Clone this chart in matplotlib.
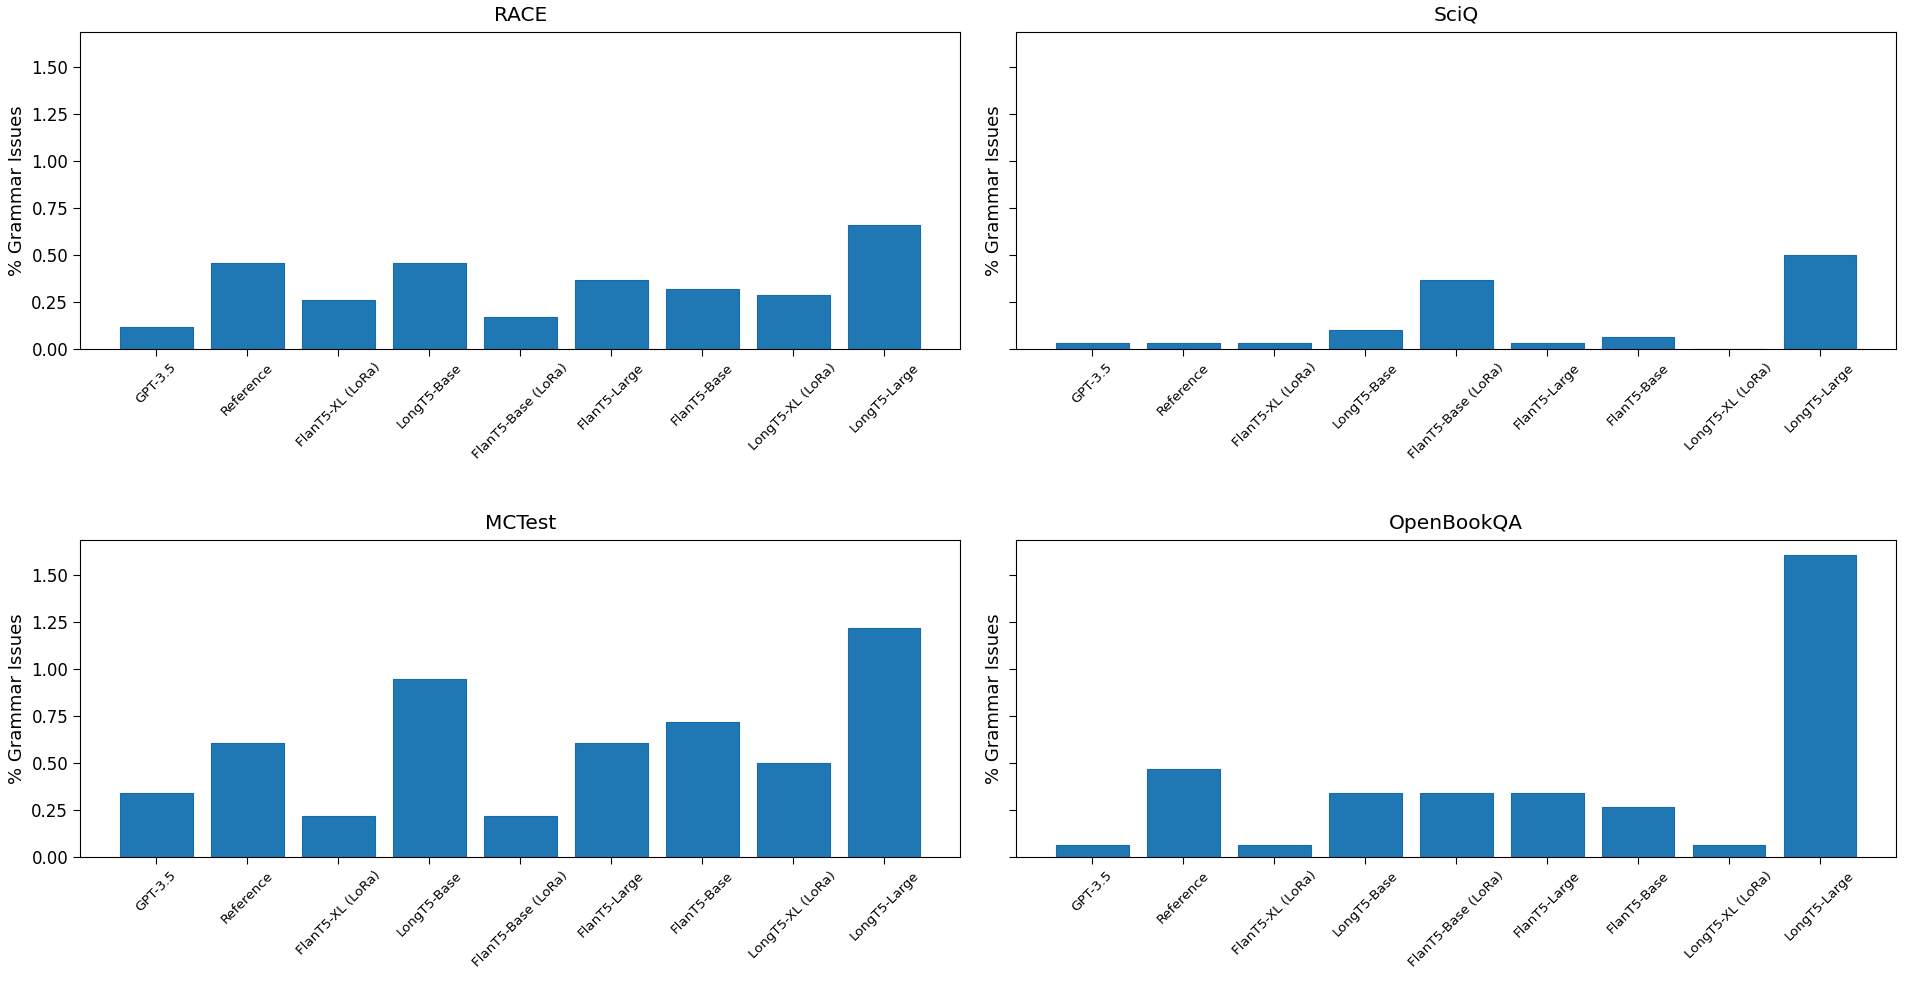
import matplotlib
matplotlib.use('Agg')
import matplotlib.pyplot as plt

models = ['GPT-3.5', 'Reference', 'FlanT5-XL (LoRa)', 'LongT5-Base', 'FlanT5-Base (LoRa)',
          'FlanT5-Large', 'FlanT5-Base', 'LongT5-XL (LoRa)', 'LongT5-Large']

race = [0.12, 0.46, 0.26, 0.46, 0.17, 0.37, 0.32, 0.29, 0.66]
sciq = [0.033, 0.033, 0.033, 0.10, 0.37, 0.033, 0.067, 0.0, 0.50]
mctest = [0.34, 0.61, 0.22, 0.95, 0.22, 0.61, 0.72, 0.50, 1.22]
openbookqa = [0.066, 0.47, 0.066, 0.34, 0.34, 0.34, 0.27, 0.066, 1.61]

datasets = ['RACE', 'SciQ', 'MCTest', 'OpenBookQA']
values = [race, sciq, mctest, openbookqa]

fig, axes = plt.subplots(2, 2, figsize=(19.05, 9.91), dpi=100, sharey=True)
fig.subplots_adjust(left=0.042, right=0.9955, top=0.968, bottom=0.135, wspace=0.063, hspace=0.6)

for ax, name, vals in zip(axes.flat, datasets, values):
    ax.bar(models, vals, color='#1f77b4', edgecolor='#1a6aa8', linewidth=0.8)
    ax.set_title(name, fontsize=14.5, pad=8)
    ax.set_ylabel('% Grammar Issues', fontsize=13)
    ax.tick_params(axis='y', labelsize=12, length=5)
    ax.tick_params(axis='x', length=5)
    ax.set_xticks(range(len(models)))
    ax.set_xticklabels(models, rotation=45, fontsize=9.6)
    ax.set_yticks([0, 0.25, 0.5, 0.75, 1.0, 1.25, 1.5])

axes[0, 0].yaxis.set_major_formatter(matplotlib.ticker.FormatStrFormatter('%.2f'))

plt.savefig('out.png')
